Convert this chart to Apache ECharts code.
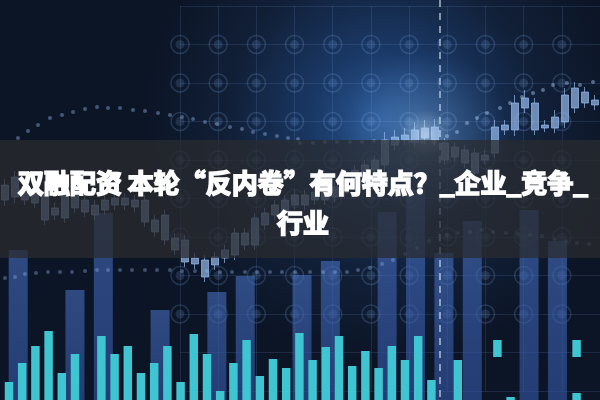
<!DOCTYPE html>
<html><head><meta charset="utf-8">
<script src="https://cdn.jsdelivr.net/npm/echarts@6/dist/echarts.min.js"></script>
<style>html,body{margin:0;padding:0;background:#0e1829}#c{width:600px;height:400px}</style>
</head><body><div id="c"></div>
<script>
// ---- data ----
const titleText = '双融配资 本轮“反内卷”有何特点？_企业_竞争_\n行业';
// candlesticks: [open, close, low, high]
const candleData = [
 [200,215,194,221],[203,223,197,229],[210,200,195,214],[197,207,192,212],[205,180,175,210],
 [185,192,180,197],[182,207,177,212],[212,192,187,217],[188,200,183,205],[195,185,180,200],
 [190,200,185,205],[195,202,190,207],[202,195,190,207],[193,200,188,205],[200,178,173,205],
 [180,168,163,185],[185,160,155,190],[162,150,145,167],[160,138,133,165],[142,136,131,147],
 [140,123,118,145],[135,143,130,148],[142,150,137,155],[145,167,140,172],[155,167,150,172],
 [155,182,150,187],[175,187,170,192],[185,195,180,200],[188,200,183,205],[195,205,190,210],
 [205,195,190,210],[200,208,195,213],[200,210,195,215],[203,213,198,218],[207,215,202,220],
 [220,230,215,235],[223,235,218,240],[230,240,225,245],[235,260,228,268],[255,263,250,270],
 [260,265,255,272],[258,270,252,278],[262,272,256,280],[260,273,254,281],[257,240,235,262],
 [253,243,238,258],[250,237,232,255],[247,227,222,252],[240,245,236,250],[247,273,242,280],
 [270,275,265,280],[270,297,264,305],[292,302,287,310],[297,270,265,302],[275,272,268,280],
 [272,283,267,290],[278,305,272,312],[292,312,287,318],[308,297,292,313],[300,295,290,305]
];
const candleCats = candleData.map((d, i) => 'T' + (i + 1));

// short cyan bars (45 slots)
const cyanCats = Array.from({length: 45}, (_, i) => 'B' + (i + 1));
const cyanValues = [18,37,54,69,27,46,'-',64,46,54,27,37,54,18,66,46,9,37,60,24,41,32,67,40,53,64,34,49,32,54,40,64,20,'-',40,'-','-',0,3,'-','-','-','-',7,'-'];
const cyanGapValues = ['-','-','-','-','-','-','-','-','-','-','-','-','-','-','-','-','-','-','-','-','-','-','-','-','-','-','-','-','-','-','-','-','-','-','-','-','-',43,'-','-','-','-','-',36,'-'];
const cyanCapValues = ['-','-','-','-','-','-','-','-','-','-','-','-','-','-','-','-','-','-','-','-','-','-','-','-','-','-','-','-','-','-','-','-','-','-','-','-','-',17,'-','-','-','-','-',17,'-'];

// tall translucent blue bars (21 slots)
const tallCats = Array.from({length: 21}, (_, i) => 'S' + (i + 1));
const tallValues = [150,'-',110,187,'-',90,'-',108,124,'-',125,139,'-',188,210,147,179,'-',190,159,'-'];

// dotted curves [x, y]
const dotsLeft = [[18,138],[28,131],[38,125],[50,118],[62,115],[73,112],[85,109],[97,107],[108,108],[120,108],[133,110],[145,111],[158,113],[170,115],[182,117],[193,119],[205,122],[217,124],[230,127],[242,129],[253,132],[265,134],[277,136],[288,138],[298,139]];
const dotsRight = [[447,136],[457,132],[467,123],[477,118],[487,113],[500,108],[510,103],[522,97],[533,93],[543,90],[553,85],[567,83],[580,85],[593,82]];
const dotsBandTop = [[300,143],[313,143],[325,142],[337,142],[350,142],[362,142],[374,141],[386,141],[398,141],[410,141],[422,142],[434,142]];
const dotsLow = [[5,278],[15,277],[25,274],[36,273],[48,272],[60,272],[72,272],[85,271],[97,270],[108,270],[120,270],[132,270],[145,270],[157,270],[170,270],[182,271],[195,271],[207,271],[220,272],[232,272],[245,272],[257,272],[270,272],[282,272],[295,272],[310,272],[323,272],[335,272],[347,272],[358,270],[370,268],[382,264],[393,260],[405,254],[417,248],[429,241],[447,235],[458,233],[470,232],[482,230],[493,232],[506,233],[518,234],[530,235],[542,236],[555,239],[566,241],[577,243],[589,244]];
const dashX = 440;

// grid ring positions (column / row indices on the decorative grid)
const ringCols = [0,1,2,3,4,5,6,7,8,9,10];
const ringRows = [1,2,3,4,5,6,7,8];
const ringData = [];
ringCols.forEach(c => ringRows.forEach(r => ringData.push([c, r])));

const hidden = {show: false};
const hideAxis = {axisLine: hidden, axisTick: hidden, axisLabel: hidden, splitLine: hidden};
const gridLine = {show: true, lineStyle: {color: 'rgba(120,170,235,0.15)', width: 1}};

const chart = echarts.init(document.getElementById('c'), null, {renderer: 'canvas'});
chart.setOption({
  animation: false,
  backgroundColor: {
    type: 'radial', x: 0.64, y: 0.3, r: 0.6,
    colorStops: [
      {offset: 0, color: '#2a5896'},
      {offset: 0.3, color: '#1a3865'},
      {offset: 0.65, color: '#111f37'},
      {offset: 1, color: '#0c1526'}
    ]
  },
  grid: [
    {left: 0, right: 0, top: 0, bottom: 0},
    {left: 0, right: 0, top: 0, bottom: 0},
    {left: 2.4, width: 594, top: 0, bottom: 0},
    {left: 4, width: 609, top: 0, bottom: 0},
    {left: 180, width: 440, top: 6, height: 385}
  ],
  xAxis: [
    Object.assign({type: 'value', gridIndex: 0, min: 0, max: 600}, hideAxis),
    Object.assign({type: 'category', gridIndex: 1, data: candleCats, boundaryGap: true}, hideAxis),
    Object.assign({type: 'category', gridIndex: 2, data: cyanCats, boundaryGap: true}, hideAxis),
    Object.assign({type: 'category', gridIndex: 3, data: tallCats, boundaryGap: true}, hideAxis),
    {type: 'value', gridIndex: 4, min: 0, max: 11, interval: 1, axisLine: hidden, axisTick: hidden, axisLabel: hidden, splitLine: gridLine}
  ],
  yAxis: [
    Object.assign({type: 'value', gridIndex: 0, min: 0, max: 400, inverse: true}, hideAxis),
    Object.assign({type: 'value', gridIndex: 1, min: 0, max: 400}, hideAxis),
    Object.assign({type: 'value', gridIndex: 2, min: 0, max: 400}, hideAxis),
    Object.assign({type: 'value', gridIndex: 3, min: 0, max: 400}, hideAxis),
    {type: 'value', gridIndex: 4, min: 0, max: 10, interval: 1, inverse: true, axisLine: hidden, axisTick: hidden, axisLabel: hidden, splitLine: gridLine}
  ],
  series: [
    {type: 'scatter', xAxisIndex: 4, yAxisIndex: 4, data: ringData, symbol: 'circle', symbolSize: 18, z: 1,
     itemStyle: {color: 'rgba(0,0,0,0)', borderColor: 'rgba(130,180,240,0.25)', borderWidth: 1.5}, silent: true},
    {type: 'scatter', xAxisIndex: 4, yAxisIndex: 4, data: ringData, symbol: 'circle', symbolSize: 9, z: 1,
     itemStyle: {color: 'rgba(130,180,240,0.2)'}, silent: true},
    {type: 'bar', xAxisIndex: 3, yAxisIndex: 3, data: tallValues, barWidth: 19, z: 2,
     itemStyle: {color: {type: 'linear', x: 0, y: 0, x2: 0, y2: 1, colorStops: [
       {offset: 0, color: 'rgba(70,110,190,0.6)'}, {offset: 1, color: 'rgba(50,85,165,0.62)'}]}}},
    {type: 'candlestick', xAxisIndex: 1, yAxisIndex: 1, data: candleData, barWidth: 7, z: 3,
     itemStyle: {color: 'rgba(150,185,235,0.7)', color0: 'rgba(150,185,235,0.7)',
       borderColor: 'rgba(150,185,235,0.7)', borderColor0: 'rgba(150,185,235,0.7)', borderWidth: 1}},
    {type: 'bar', xAxisIndex: 2, yAxisIndex: 2, data: cyanValues, stack: 'c', barWidth: 8.5, z: 4,
     itemStyle: {color: '#3fc4d1'}},
    {type: 'bar', xAxisIndex: 2, yAxisIndex: 2, data: cyanGapValues, stack: 'c', barWidth: 8.5, z: 4,
     itemStyle: {color: 'rgba(0,0,0,0)'}},
    {type: 'bar', xAxisIndex: 2, yAxisIndex: 2, data: cyanCapValues, stack: 'c', barWidth: 8.5, z: 4,
     itemStyle: {color: '#3fc4d1'}},
    {type: 'line', xAxisIndex: 0, yAxisIndex: 0, data: dotsLeft, symbol: 'circle', symbolSize: 4, showSymbol: true, z: 5,
     lineStyle: {width: 0, opacity: 0}, itemStyle: {color: 'rgba(150,190,240,0.4)'},
     markLine: {silent: true, symbol: 'none', label: {show: false},
       lineStyle: {color: 'rgba(235,245,255,0.7)', type: [7, 6], width: 1.5},
       data: [{xAxis: dashX}]}},
    {type: 'line', xAxisIndex: 0, yAxisIndex: 0, data: dotsRight, symbol: 'circle', symbolSize: 4, showSymbol: true, z: 5,
     lineStyle: {width: 0, opacity: 0}, itemStyle: {color: 'rgba(170,205,245,0.45)'}},
    {type: 'line', xAxisIndex: 0, yAxisIndex: 0, data: dotsBandTop, symbol: 'circle', symbolSize: 4, showSymbol: true, z: 5,
     lineStyle: {width: 0, opacity: 0}, itemStyle: {color: 'rgba(170,205,245,0.4)'}},
    {type: 'line', xAxisIndex: 0, yAxisIndex: 0, data: dotsLow, symbol: 'circle', symbolSize: 4, showSymbol: true, z: 5,
     lineStyle: {width: 0, opacity: 0}, itemStyle: {color: 'rgba(150,190,240,0.35)'}}
  ],
  graphic: [
    {type: 'circle', shape: {cx: 425, cy: 135, r: 85}, z: 8, silent: true,
     style: {fill: {type: 'radial', x: 0.5, y: 0.5, r: 0.5, colorStops: [
       {offset: 0, color: 'rgba(220,240,255,0.55)'}, {offset: 0.3, color: 'rgba(160,210,255,0.2)'},
       {offset: 1, color: 'rgba(120,180,255,0)'}]}}},
    {type: 'rect', shape: {x: 0, y: 140, width: 600, height: 118}, z: 10, silent: true,
     style: {fill: 'rgba(42,43,47,0.74)'}},
    {type: 'text', x: 303, y: 163, z: 12, silent: true,
     style: {text: titleText, fill: '#ffffff', stroke: '#ffffff', lineWidth: 1.7,
       font: 'bold 26px "Noto Sans CJK SC", sans-serif',
       textAlign: 'center', lineHeight: 40}}
  ]
});
</script>
</body></html>
